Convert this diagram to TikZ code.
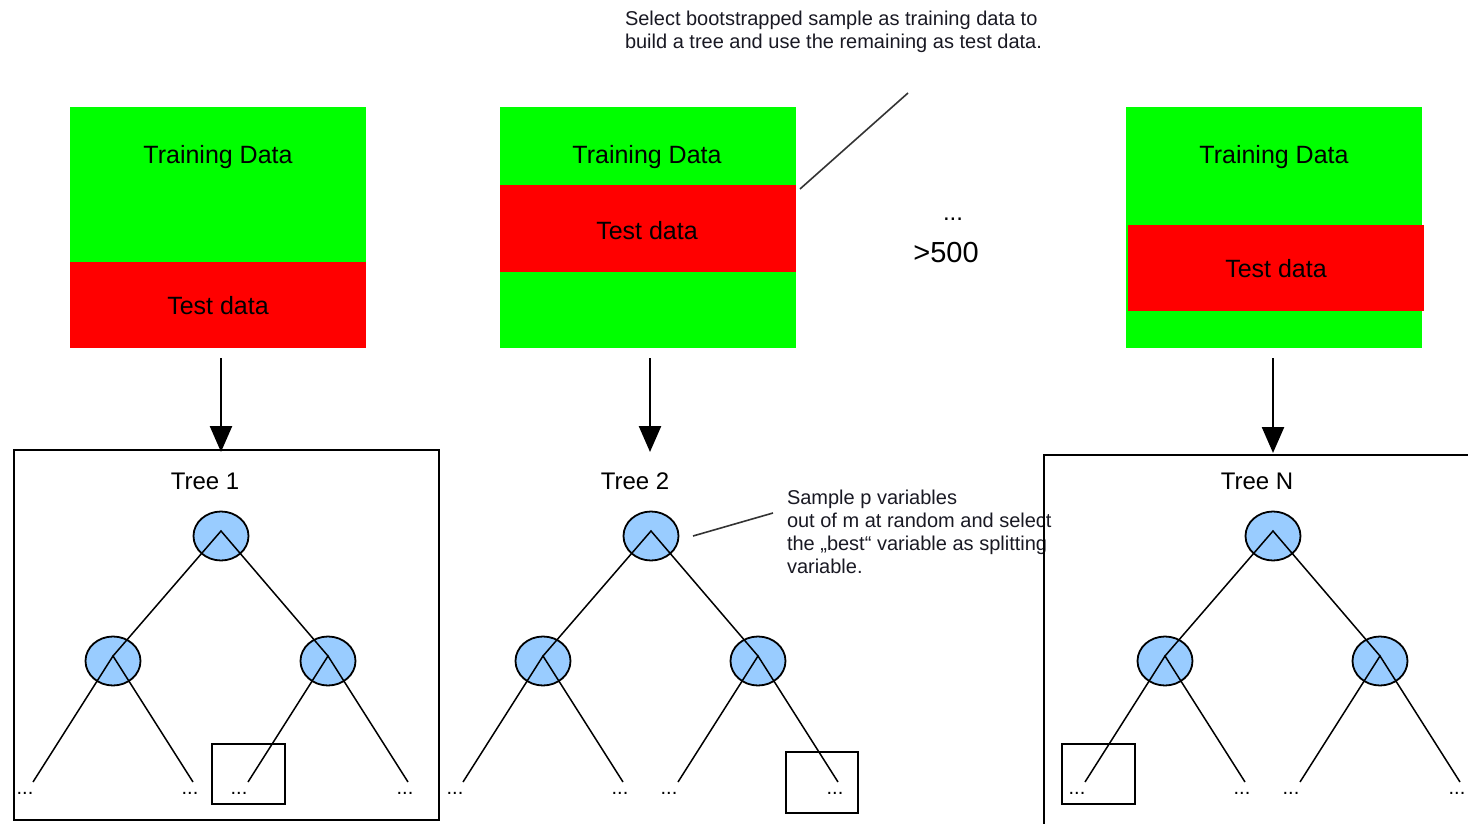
\documentclass[tikz,border=0pt]{standalone}
\usepackage{fontspec}
\setmainfont{Liberation Sans}
\usetikzlibrary{shapes.geometric,arrows.meta,calc}

\definecolor{traingreen}{RGB}{0,255,0}
\definecolor{testred}{RGB}{255,0,0}
\definecolor{nodeblue}{RGB}{153,204,255}
\definecolor{notetext}{RGB}{25,25,35}

\begin{document}
\begin{tikzpicture}[x=1pt,y=-1pt,
  every node/.style={inner sep=0pt, outer sep=0pt},
  trainbox/.style={fill=traingreen, minimum width=296pt, minimum height=241pt},
  testbox/.style={fill=testred, minimum width=296pt, minimum height=86pt},
  boxlabel/.style={font=\fontsize{25}{30}\selectfont},
  treelabel/.style={font=\fontsize{24}{29}\selectfont},
  note/.style={font=\fontsize{20}{23}\selectfont, align=left, anchor=north west, text=notetext},
  splitnode/.style={ellipse, draw=black, line width=1.8pt, fill=nodeblue, minimum width=55pt, minimum height=49pt},
  branch/.style={line width=1.5pt},
  leafdots/.style={font=\fontsize{20}{24}\selectfont, anchor=base},
  frame/.style={draw, line width=2.6pt},
  flow/.style={line width=2.5pt, -{Triangle[length=26pt,width=22pt]}},
  pointer/.style={line width=1.6pt, draw=black!80}
]
\useasboundingbox (0,0) rectangle (1468,824);
\clip (0,0) rectangle (1468,824);

% ---- data splits for each bootstrap sample ----
\node[trainbox] (train1) at (218,227.5) {};
\node[testbox]  (test1)  at (218,305) {};
\node[boxlabel] (train1lbl) at (218,157) {Training Data};
\node[boxlabel] (test1lbl)  at (218,306) {Test data};

\node[trainbox] (train2) at (647.5,227.5) {};
\node[testbox, minimum height=87pt] (test2) at (647.5,228.5) {};
\node[boxlabel] (train2lbl) at (647,157) {Training Data};
\node[boxlabel] (test2lbl)  at (647,231) {Test data};

\node[trainbox] (train3) at (1273.5,227.5) {};
\node[testbox]  (test3)  at (1275.5,268) {};
\node[boxlabel] (train3lbl) at (1274,157) {Training Data};
\node[boxlabel] (test3lbl)  at (1276,269) {Test data};

% ---- notes ----
\node[note] (bootnote) at (625,11)
  {Select bootstrapped sample as training data to\\build a tree and use the remaining as test data.};
\coordinate (bootptrA) at (800,189);
\coordinate (bootptrB) at (908,93);
\draw[pointer] (bootptrA) -- (bootptrB);

\node[font=\fontsize{24}{28}\selectfont, anchor=base] (middots) at (953,221) {...};
\node[font=\fontsize{29}{34}\selectfont] (count) at (946,253) {>500};

\node[note] (splitnote) at (787,490)
  {Sample p variables\\out of m at random and select\\the „best“ variable as splitting\\variable.};
\coordinate (splitptrA) at (693,536);
\coordinate (splitptrB) at (773,513);
\draw[pointer] (splitptrA) -- (splitptrB);

% ---- frames around trees ----
\node[frame, minimum width=425pt, minimum height=370pt] (frame1) at (226.5,635) {};
\coordinate (frameNbot) at (1044,830);
\coordinate (frameNcorner) at (1044,455);
\coordinate (frameNright) at (1475,455);
\draw[line width=2.6pt] (frameNbot) -- (frameNcorner) -- (frameNright);

% ---- arrows from data to trees ----
\coordinate (flow1a) at (221,358); \coordinate (flow1b) at (221,452);
\coordinate (flow2a) at (650,358); \coordinate (flow2b) at (650,452);
\coordinate (flow3a) at (1273,358); \coordinate (flow3b) at (1273,453);
\draw[flow] (flow1a) -- (flow1b);
\draw[flow] (flow2a) -- (flow2b);
\draw[flow] (flow3a) -- (flow3b);

% ---- the trees ----
\foreach \t/\dx in {1/0, 2/430, N/1052} {
  \node[treelabel] (title\t) at (205+\dx,481) {Tree \t};
  \node[splitnode] (root\t)  at (221+\dx,536) {};
  \node[splitnode] (left\t)  at (113+\dx,661) {};
  \node[splitnode] (right\t) at (328+\dx,661) {};
  \coordinate (rootap\t)  at (221+\dx,531);
  \coordinate (leftap\t)  at (113+\dx,656);
  \coordinate (rightap\t) at (328+\dx,656);
  \coordinate (leafA\t) at (33+\dx,782);
  \coordinate (leafB\t) at (193+\dx,782);
  \coordinate (leafC\t) at (248+\dx,782);
  \coordinate (leafD\t) at (408+\dx,782);
  \draw[branch] (leftap\t) -- (rootap\t) -- (rightap\t);
  \draw[branch] (leafA\t) -- (leftap\t) -- (leafB\t);
  \draw[branch] (leafC\t) -- (rightap\t) -- (leafD\t);
  \foreach \lx [count=\k] in {25,190,239,405}
    \node[leafdots] (dots\t\k) at (\lx+\dx,794) {...};
}

% ---- highlighted leaves ----
\node[frame, minimum width=73pt, minimum height=60pt] (hl1) at (248.5,774) {};
\node[frame, minimum width=72pt, minimum height=61pt] (hl2) at (822,782.5) {};
\node[frame, minimum width=73pt, minimum height=60pt] (hlN) at (1098.5,774) {};
\end{tikzpicture}
\end{document}
